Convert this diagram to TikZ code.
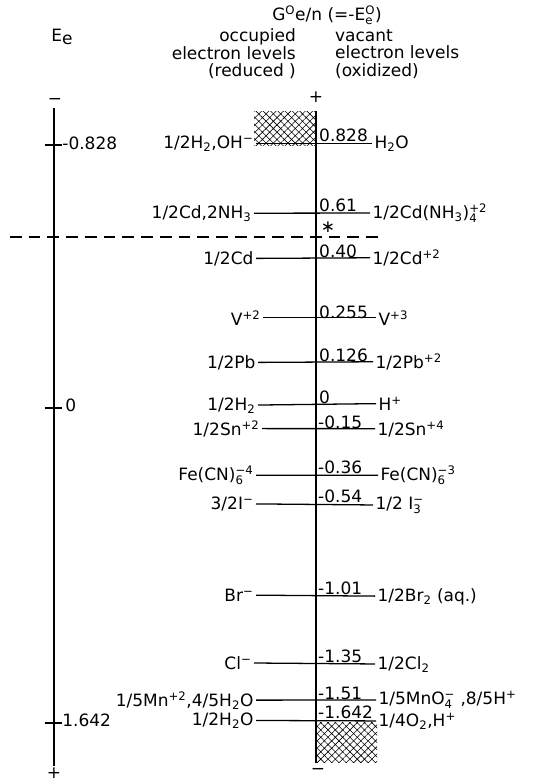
\documentclass[tikz,border=0pt]{standalone}
\usepackage{fontspec}
\setmainfont{DejaVu Sans}
\usetikzlibrary{patterns.meta}
\newcommand{\scr}{\fontsize{10}{11}\selectfont}
\newcommand{\chsub}[1]{\ensuremath{_{\hbox{\scr#1}}}}
\newcommand{\chsup}[1]{\ensuremath{^{\hbox{\scr#1}}}}
\newcommand{\chss}[2]{\ensuremath{_{\hbox{\scr#1}}^{\hbox{\scr#2}}}}
\begin{document}
\begin{tikzpicture}[x=0.03cm, y=-0.03cm,
    font=\fontsize{14.5}{15}\selectfont,
    axis/.style={line width=1.6pt},
    level/.style={line width=1.1pt},
    occ/.style={anchor=mid east, inner sep=2pt},
    vac/.style={anchor=mid west, inner sep=2pt},
    val/.style={anchor=base west, inner sep=0pt},
    hatch/.style={pattern={Hatch[angle=45,distance=4.4pt,line width=0.5pt]}}]
  \useasboundingbox (0,0) rectangle (548,781);
  % headings
  \node (ee) at (62,37) {E\raisebox{-0.15em}{e}};
  \node (gtitle) at (327,15) {G\chsup{O}e/n (=-E\chss{e}{O})};
  \node[anchor=east, align=right] (occhead) at (300,54) {occupied\\electron levels\\(reduced )};
  \node[anchor=west, align=left] (vachead) at (331,54) {vacant\\electron levels\\(oxidized)};
  % hatched regions
  \fill[hatch] (254,111) rectangle (316,145);
  \fill[hatch] (316,722) rectangle (377,762);
  % E_e scale
  \node (lminus) at (55,101) {−};
  \node (lplus) at (54,773) {+};
  \coordinate (ltop) at (54,108);
  \coordinate (lbot) at (54,766);
  \draw[axis] (ltop) -- (lbot);
  \coordinate (tk1) at (54,145);
  \coordinate (tk2) at (54,408);
  \coordinate (tk3) at (54,723);
  \draw[level] ([xshift=-8]tk1) -- ([xshift=7]tk1);
  \draw[level] ([xshift=-8]tk2) -- ([xshift=7]tk2);
  \draw[level] ([xshift=-8]tk3) -- ([xshift=7]tk3);
  \node[vac, inner sep=1pt] (tl1) at (61,146) {-0.828};
  \node[vac, inner sep=1pt] (tl2) at (64,408) {0};
  \node[vac, inner sep=1pt] (tl3) at (61,723) {1.642};
  % G scale
  \node (cplus) at (316,97) {+};
  \node (cminus) at (318,771) {−};
  \coordinate (ctop) at (316,111);
  \coordinate (cbot) at (316,763);
  \draw[axis] (ctop) -- (cbot);
  \coordinate (dl) at (10,237);
  \coordinate (dr) at (380,237);
  \draw[level, dash pattern=on 10pt off 6pt] (dl) -- (dr);
  \node (star) at (328,227) {∗};
  % levels
  \node[occ] (o1) at (256,145) {1/2H\chsub{2},OH\chsup{−}};
  \node[vac] (v1) at (372,145) {H\chsub{2}O};
  \node[val] (n1) at (319,141) {0.828};
  \draw[level] (o1) -- (v1);
  \node[occ] (o2) at (254,215) {1/2Cd,2NH\chsub{3}};
  \node[vac] (v2) at (370,215) {1/2Cd(NH\chsub{3})\chss{4}{+2}};
  \node[val] (n2) at (319,211) {0.61};
  \draw[level] (o2) -- (v2);
  \node[occ] (o3) at (256,261) {1/2Cd};
  \node[vac] (v3) at (370,261) {1/2Cd\chsup{+2}};
  \node[val] (n3) at (319,257) {0.40};
  \draw[level] (o3) -- (v3);
  \node[occ] (o4) at (263,322) {V\chsup{+2}};
  \node[vac] (v4) at (376,322) {V\chsup{+3}};
  \node[val] (n4) at (319,318) {0.255};
  \draw[level] (o4) -- (v4);
  \node[occ] (o5) at (258,365) {1/2Pb};
  \node[vac] (v5) at (373,365) {1/2Pb\chsup{+2}};
  \node[val] (n5) at (319,361) {0.126};
  \draw[level] (o5) -- (v5);
  \node[occ] (o6) at (258,407) {1/2H\chsub{2}};
  \node[vac] (v6) at (376,407) {H\chsup{+}};
  \node[val] (n6) at (319,403) {0};
  \draw[level] (o6) -- (v6);
  \node[occ] (o7) at (262,432) {1/2Sn\chsup{+2}};
  \node[vac] (v7) at (375,432) {1/2Sn\chsup{+4}};
  \node[val] (n7) at (318,428) {-0.15};
  \draw[level] (o7) -- (v7);
  \node[occ] (o8) at (256,477) {Fe(CN)\chss{6}{−4}};
  \node[vac] (v8) at (378,477) {Fe(CN)\chss{6}{−3}};
  \node[val] (n8) at (318,473) {-0.36};
  \draw[level] (o8) -- (v8);
  \node[occ] (o9) at (256,506) {3/2I\chsup{−}};
  \node[vac] (v9) at (373,506) {1/2 I\chss{3}{−}};
  \node[val] (n9) at (318,502) {-0.54};
  \draw[level] (o9) -- (v9);
  \node[occ] (o10) at (256,598) {Br\chsup{−}};
  \node[vac] (v10) at (375,598) {1/2Br\chsub{2} (aq.)};
  \node[val] (n10) at (318,594) {-1.01};
  \draw[level] (o10) -- (v10);
  \node[occ] (o11) at (254,666) {Cl\chsup{−}};
  \node[vac] (v11) at (375,666) {1/2Cl\chsub{2}};
  \node[val] (n11) at (318,662) {-1.35};
  \draw[level] (o11) -- (v11);
  \node[occ] (o12) at (256,703) {1/5Mn\chsup{+2},4/5H\chsub{2}O};
  \node[vac] (v12) at (376,703) {\raisebox{1.5pt}{1/5MnO\chss{4}{−} ,8/5H\chsup{+}}};
  \node[val] (n12) at (318,699) {-1.51};
  \draw[level] (o12) -- (v12);
  \node[occ] (o13) at (256,722) {1/2H\chsub{2}O};
  \node[vac] (v13) at (376,722) {\raisebox{-1pt}{1/4O\chsub{2},H\chsup{+}}};
  \node[val] (n13) at (318,718) {-1.642};
  \draw[level] (o13) -- (v13);
\end{tikzpicture}
\end{document}
